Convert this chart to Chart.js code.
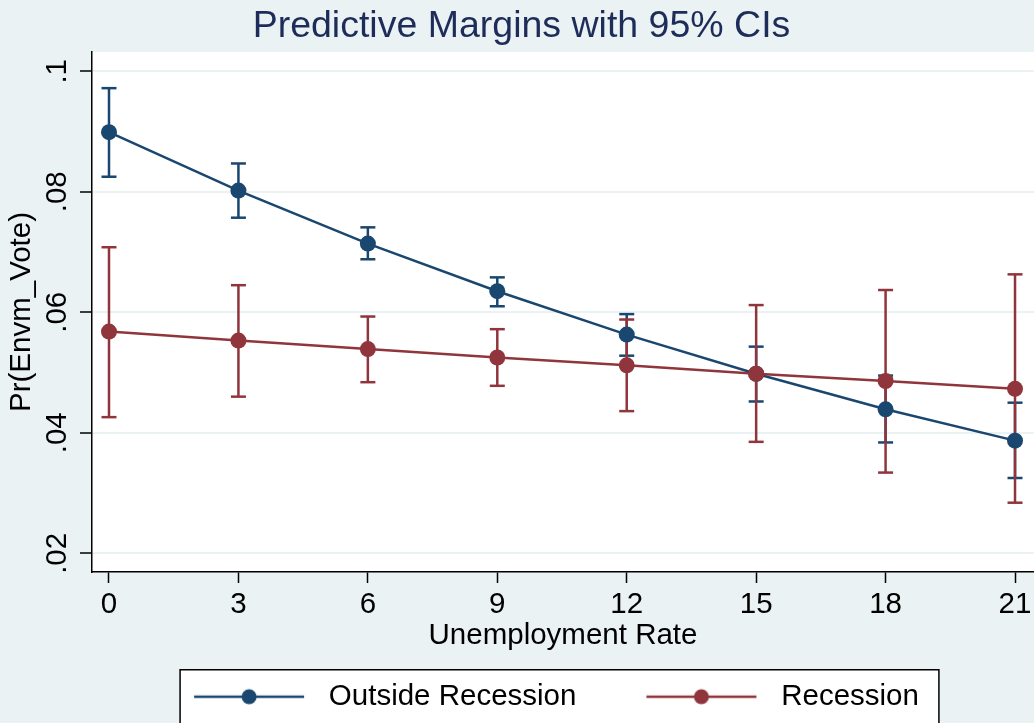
<!DOCTYPE html>
<html>
<head>
<meta charset="utf-8">
<title>Predictive Margins with 95% CIs</title>
<script src="https://cdn.jsdelivr.net/npm/chart.js@4/dist/chart.umd.min.js"></script>
<style>
  html, body { margin: 0; padding: 0; background: #EAF2F3; }
  #wrap { width: 1034px; height: 723px; }
</style>
</head>
<body>
<div id="wrap"><canvas id="chart" width="1034" height="723"></canvas></div>
<script>
// Unemployment rate values at which margins were evaluated
const unemploymentRate = [0, 3, 6, 9, 12, 15, 18, 21];

// Predicted Pr(Envm_Vote) outside recessions, with 95% CI bounds
const outsideMargin = [0.0899, 0.0802, 0.0714, 0.0635, 0.0563, 0.0498, 0.0439, 0.0387];
const outsideLower  = [0.0825, 0.0757, 0.0688, 0.0610, 0.0528, 0.0452, 0.0384, 0.0325];
const outsideUpper  = [0.0972, 0.0847, 0.0741, 0.0658, 0.0597, 0.0543, 0.0495, 0.0450];

// Predicted Pr(Envm_Vote) during recessions, with 95% CI bounds
const recessionMargin = [0.0568, 0.0553, 0.0539, 0.0525, 0.0512, 0.0498, 0.0486, 0.0473];
const recessionLower  = [0.0426, 0.0460, 0.0484, 0.0478, 0.0436, 0.0385, 0.0334, 0.0284];
const recessionUpper  = [0.0708, 0.0645, 0.0593, 0.0572, 0.0588, 0.0612, 0.0637, 0.0663];

// Axis ticks
const xTickValues = [0, 3, 6, 9, 12, 15, 18, 21];
const yTickValues = [0.02, 0.04, 0.06, 0.08, 0.1];
const yTickLabels = ['.02', '.04', '.06', '.08', '.1'];

const seriesNames = ['Outside Recession', 'Recession'];

const NAVY = '#1A476F';
const MAROON = '#90353B';
const BG = '#EAF2F3';
const FONT = '"Liberation Sans", Arial, Helvetica, sans-serif';

// Outer margin on the left and the resulting y-axis band width
const PAD_LEFT = 9;
const PLOT_LEFT = 92;

// Legend key geometry: blank lead-in, line segment, trailing gap
const KEY_LEAD = 70, KEY_LINE = 110, KEY_TAIL = 10;
const KEY_W = KEY_LEAD + KEY_LINE + KEY_TAIL;
const KEY_H = 20;

function legendKey(color) {
  const c = document.createElement('canvas');
  c.width = KEY_W; c.height = KEY_H;
  const g = c.getContext('2d');
  g.strokeStyle = color;
  g.lineWidth = 2.5;
  g.beginPath();
  g.moveTo(KEY_LEAD, KEY_H / 2);
  g.lineTo(KEY_LEAD + KEY_LINE, KEY_H / 2);
  g.stroke();
  g.fillStyle = color;
  g.beginPath();
  g.arc(KEY_LEAD + KEY_LINE / 2, KEY_H / 2, 7.5, 0, Math.PI * 2);
  g.fill();
  return c;
}
const legendKeys = [legendKey(NAVY), legendKey(MAROON)];

// Vertical CI segments: lower -> upper at each x, broken by gaps
function ciSegments(lower, upper) {
  const pts = [];
  unemploymentRate.forEach((x, i) => {
    pts.push({ x: x, y: lower[i] }, { x: x, y: upper[i] }, { x: x, y: null });
  });
  return pts;
}
function marginPoints(values) {
  return unemploymentRate.map((x, i) => ({ x: x, y: values[i] }));
}

// Page background, white plot region and framed legend
const backdrop = {
  id: 'backdrop',
  beforeDraw(chart) {
    const { ctx, chartArea: a } = chart;
    ctx.save();
    ctx.fillStyle = BG;
    ctx.fillRect(0, 0, chart.width, chart.height);
    ctx.fillStyle = '#FFFFFF';
    ctx.fillRect(a.left, a.top, a.right - a.left, a.bottom - a.top);

    const hb = chart.legend && chart.legend.legendHitBoxes;
    if (hb && hb.length) {
      const first = hb[0], last = hb[hb.length - 1];
      const left = first.left + KEY_LEAD - 14;
      const right = last.left + last.width + 20;
      const cy = first.top + first.height / 2;
      const top = cy - 27;
      ctx.fillStyle = '#FFFFFF';
      ctx.fillRect(left, top, right - left, chart.height - top + 10);
      ctx.strokeStyle = '#000000';
      ctx.lineWidth = 1.5;
      ctx.strokeRect(left, top, right - left, chart.height - top + 10);
    }
    ctx.restore();
  }
};

const axisFont = { family: FONT, size: 29.5, weight: 'normal' };

function noEdgePadding(s) {
  s.paddingLeft = 0; s.paddingRight = 0;
  s.paddingTop = 0; s.paddingBottom = 0;
}

new Chart(document.getElementById('chart'), {
  type: 'line',
  data: {
    datasets: [
      {
        label: seriesNames[0],
        data: marginPoints(outsideMargin),
        borderColor: NAVY,
        backgroundColor: NAVY,
        borderWidth: 2.5,
        pointRadius: 8,
        pointBorderWidth: 0,
        pointBackgroundColor: NAVY,
        tension: 0,
        order: 1
      },
      {
        label: seriesNames[1],
        data: marginPoints(recessionMargin),
        borderColor: MAROON,
        backgroundColor: MAROON,
        borderWidth: 2.5,
        pointRadius: 8,
        pointBorderWidth: 0,
        pointBackgroundColor: MAROON,
        tension: 0,
        order: 0
      },
      {
        label: seriesNames[0] + ' CI',
        data: ciSegments(outsideLower, outsideUpper),
        borderColor: NAVY,
        borderWidth: 2.5,
        pointStyle: 'line',
        pointRadius: 7.5,
        pointBorderWidth: 2.5,
        pointBorderColor: NAVY,
        spanGaps: false,
        order: 3
      },
      {
        label: seriesNames[1] + ' CI',
        data: ciSegments(recessionLower, recessionUpper),
        borderColor: MAROON,
        borderWidth: 2.5,
        pointStyle: 'line',
        pointRadius: 7.5,
        pointBorderWidth: 2.5,
        pointBorderColor: MAROON,
        spanGaps: false,
        order: 2
      }
    ]
  },
  options: {
    responsive: false,
    animation: false,
    events: [],
    layout: { autoPadding: false, padding: { left: PAD_LEFT, right: 0, top: 0, bottom: 1.5 } },
    plugins: {
      title: {
        display: true,
        text: 'Predictive Margins with 95% CIs',
        color: '#1E2C5A',
        font: { family: FONT, size: 37.5, weight: 'normal' },
        padding: { top: 4.5, bottom: 2.5 }
      },
      legend: {
        position: 'bottom',
        align: 'center',
        labels: {
          usePointStyle: true,
          pointStyleWidth: KEY_W,
          padding: 0,
          color: '#000000',
          font: axisFont,
          generateLabels: (chart) => [0, 1].map((i) => ({
            text: chart.data.datasets[i].label,
            datasetIndex: i,
            pointStyle: legendKeys[i],
            fillStyle: chart.data.datasets[i].borderColor,
            strokeStyle: chart.data.datasets[i].borderColor,
            lineWidth: 0,
            hidden: false,
            fontColor: '#000000'
          }))
        }
      },
      tooltip: { enabled: false }
    },
    scales: {
      x: {
        type: 'linear',
        min: -0.394,
        max: 21.44,
        afterBuildTicks: (s) => { s.ticks = xTickValues.map((v) => ({ value: v })); },
        afterFit: (s) => { s.height = 110; noEdgePadding(s); },
        ticks: {
          autoSkip: false,
          maxRotation: 0,
          padding: 4,
          color: '#000000',
          font: axisFont,
          callback: (v) => String(v)
        },
        grid: {
          drawOnChartArea: false,
          tickLength: 11,
          tickColor: '#000000',
          tickWidth: 1.5
        },
        border: { color: '#000000', width: 1.5 },
        title: {
          display: true,
          text: 'Unemployment Rate',
          color: '#000000',
          font: axisFont,
          padding: { top: 0, bottom: 28.3 }
        }
      },
      y: {
        type: 'linear',
        min: 0.0169,
        max: 0.1032,
        afterBuildTicks: (s) => { s.ticks = yTickValues.map((v) => ({ value: v })); },
        afterFit: (s) => { s.width = PLOT_LEFT - PAD_LEFT; noEdgePadding(s); },
        ticks: {
          autoSkip: false,
          minRotation: 90,
          maxRotation: 90,
          crossAlign: 'center',
          padding: 2,
          color: '#000000',
          font: axisFont,
          callback: (v) => yTickLabels[yTickValues.indexOf(v)]
        },
        grid: {
          color: BG,
          lineWidth: 2,
          tickLength: 12,
          tickColor: '#000000',
          tickWidth: 1.5
        },
        border: { color: '#000000', width: 1.5 },
        title: {
          display: true,
          text: 'Pr(Envm_Vote)',
          color: '#000000',
          font: axisFont,
          padding: { top: 22 - PAD_LEFT - 17.7, bottom: 0 }
        }
      }
    }
  },
  plugins: [backdrop]
});
</script>
</body>
</html>
